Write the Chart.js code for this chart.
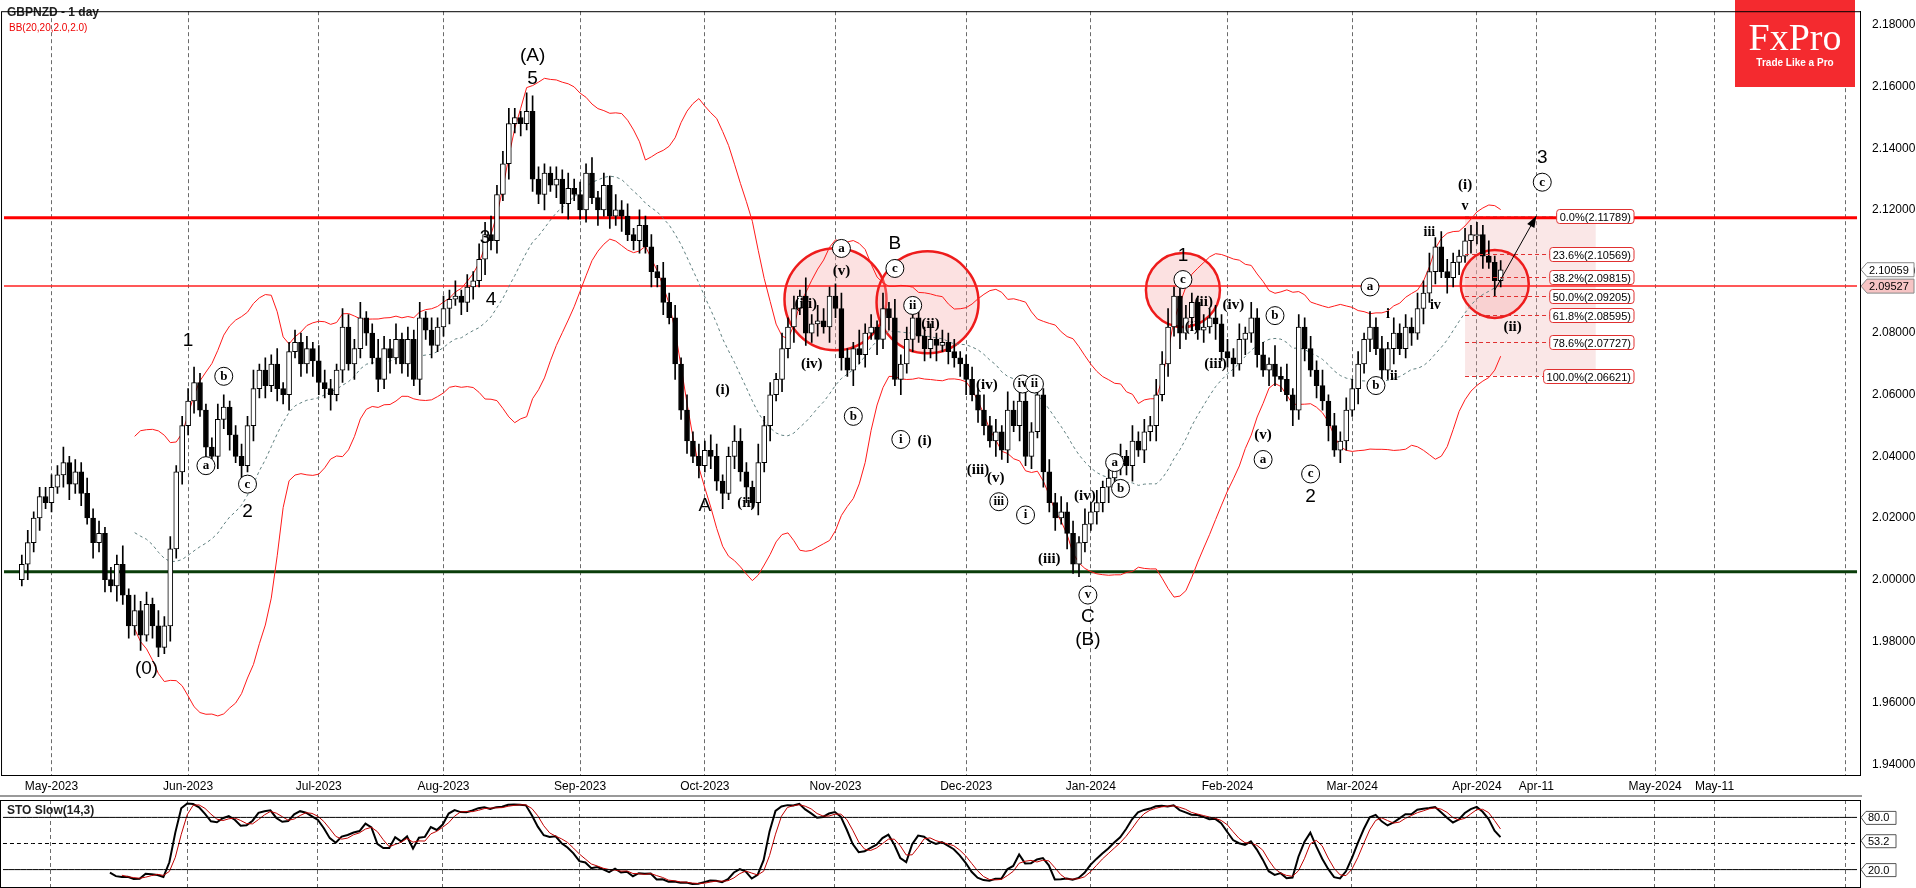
<!DOCTYPE html>
<html><head><meta charset="utf-8">
<script src="https://cdn.jsdelivr.net/npm/chart.js@4.4.1/dist/chart.umd.min.js"></script>
<style>
html,body{margin:0;padding:0;background:#fff;width:1916px;height:888px;overflow:hidden;font-family:"Liberation Sans",Arial,sans-serif}
#w1{position:absolute;left:0;top:0;width:1916px;height:797px}
#w2{position:absolute;left:0;top:797px;width:1916px;height:91px}
#sep{position:absolute;left:0;top:795px;width:1862px;height:2px;background:#999}
</style></head><body>
<div id="w1"><canvas id="c1"></canvas></div>
<div id="sep"></div>
<div id="w2"><canvas id="c2"></canvas></div>
<script>
// ---------- DATA ----------
const closes = [
2.005,2.012,2.020,2.027,2.025,
2.030,2.034,2.038,2.031,2.035,2.028,2.020,2.012,2.015,2.000,1.998,2.005,1.995,1.985,1.990,1.982,1.992,1.985,1.978,1.985,2.010,2.035,2.050,
2.058,2.064,2.055,2.043,2.040,2.052,2.056,2.047,2.040,2.037,2.050,2.062,2.068,2.063,2.070,2.062,2.060,2.074,2.077,2.070,2.075,2.071,
2.064,2.062,2.060,2.068,2.082,2.070,2.075,2.085,2.080,2.072,2.065,2.075,2.072,2.078,2.070,2.078,2.065,2.085,2.081,2.076,2.082,
2.088,2.091,2.092,2.090,2.095,2.097,2.104,2.112,2.110,2.125,2.135,2.148,2.150,2.148,2.152,2.130,2.125,2.132,2.128,2.130,2.122,2.127,2.125,
2.120,2.132,2.124,2.120,2.128,2.118,2.120,2.118,2.112,2.110,2.115,2.108,2.100,2.098,2.090,2.085,2.070,2.055,2.045,2.040,2.037,
2.042,2.040,2.032,2.028,2.040,2.045,2.035,2.030,2.025,2.038,2.050,2.060,2.065,2.075,2.082,2.088,2.092,2.080,2.083,2.084,2.082,2.092,
2.088,2.072,2.068,2.075,2.073,2.080,2.082,2.078,2.088,2.085,2.065,2.070,2.078,2.085,2.079,2.075,2.078,2.076,2.077,2.074,2.072,2.070,
2.065,2.060,2.055,2.050,2.045,2.048,2.042,2.055,2.050,2.058,2.040,2.048,2.060,2.035,2.025,2.020,2.022,2.015,2.005,2.012,2.018,
2.022,2.025,2.030,2.033,2.038,2.040,2.037,2.045,2.042,2.048,2.050,2.060,2.070,2.082,2.092,2.080,2.085,2.090,2.081,2.082,2.085,2.083,2.074,
2.072,2.070,2.078,2.080,2.085,2.073,2.068,2.070,2.066,2.065,2.060,2.055,2.082,2.075,2.068,2.063,2.058,2.050,2.042,2.045,2.055,
2.062,2.070,2.078,2.082,2.075,2.068,2.075,2.080,2.075,2.082,2.080,2.088,2.093,2.100,2.108,2.100,2.098,2.103,2.105,2.110,2.112,
2.112,2.105,2.103,2.097,2.10059];
const firstOpen = 2.000;
// wick lengths in 1/1000 of price
const upperWicks = "34233"+"43524353424362534253423"+"4532354234362435234342"+"543264352364352435243"+"43524354634532654324353"+"435243534253425342534"+"3542354326342534263543"+"4532634252634243524342"+"342534263543524353425"+"34253425343546354324343"+"435253426352434352434"+"342534253435463543243"+"43523";
const lowerWicks = "25342"+"32453425342534352432534"+"3425243524253424352435"+"435242534243523425342"+"35243425342534243524352"+"342524352342534253424"+"2435243524352435243425"+"3425342534253424352434"+"524325342534253425343"+"24352435243524352434253"+"342534253425342435243"+"253424352342534253424"+"34252";
const monthTicks = {8:"May-2023",31:"Jun-2023",53:"Jul-2023",74:"Aug-2023",97:"Sep-2023",118:"Oct-2023",140:"Nov-2023",162:"Dec-2023",183:"Jan-2024",206:"Feb-2024",227:"Mar-2024",248:"Apr-2024",258:"Apr-11",278:"May-2024",288:"May-11"};
const extraGrid = [310];
const yTicks = [1.94,1.96,1.98,2.00,2.02,2.04,2.06,2.08,2.10,2.12,2.14,2.16,2.18];
const level1 = 2.1175, level2 = 2.0953, level3 = 2.0026;
const fibLevels = [["0.0%",2.11789],["23.6%",2.10569],["38.2%",2.09815],["50.0%",2.09205],["61.8%",2.08595],["78.6%",2.07727],["100.0%",2.06621]];
// wave labels: [data index, price, text, style] n=plain big, c=circled, p=paren roman
const waveLabels = [
[21,1.971,"(0)","n"],[28,2.0775,"1","n"],[31,2.037,"a","c"],[34,2.066,"b","c"],[38,2.031,"c","c"],[38,2.022,"2","n"],
[78,2.111,"3","n"],[79,2.091,"4","n"],[86,2.170,"(A)","n"],[86,2.1625,"5","n"],
[115,2.024,"A","n"],[118,2.0615,"(i)","p"],[122,2.025,"(ii)","p"],[132,2.0895,"(iii)","p"],[133,2.070,"(iv)","p"],
[138,2.1075,"a","c"],[138,2.100,"(v)","p"],[147,2.109,"B","n"],[147,2.101,"c","c"],[150,2.089,"ii","c"],[153,2.083,"(ii)","p"],
[140,2.053,"b","c"],[148,2.0455,"i","c"],[152,2.045,"(i)","p"],[162.5,2.063,"(iv)","p"],[168.5,2.0635,"iv","c"],[170.5,2.0635,"ii","c"],
[161,2.0355,"(iii)","p"],[164,2.033,"(v)","p"],[164.5,2.0253,"iii","c"],[169,2.021,"i","c"],[173,2.0066,"(iii)","p"],[179,2.027,"(iv)","p"],
[179.5,1.995,"v","c"],[179.5,1.988,"C","n"],[179.5,1.9805,"(B)","n"],[184,2.038,"a","c"],[185,2.0296,"b","c"],
[195.5,2.105,"1","n"],[195.5,2.0974,"c","c"],[199,2.090,"(ii)","p"],[197,2.082,"(i)","p"],[204,2.089,"(iv)","p"],[201,2.070,"(iii)","p"],
[211,2.0857,"b","c"],[209,2.047,"(v)","p"],[209,2.039,"a","c"],[217,2.0343,"c","c"],[217,2.027,"2","n"],
[227,2.095,"a","c"],[228,2.063,"b","c"],[230,2.086,"i","s"],[231,2.066,"ii","s"],[237,2.1126,"iii","s"],[238,2.089,"iv","s"],
[243,2.121,"v","s"],[243,2.128,"(i)","p"],[251,2.082,"(ii)","p"],[256,2.137,"3","n"],[256,2.129,"c","c"]];
const circles = [[137,2.091,51],[152.5,2.090,51],[195.5,2.094,37],[248,2.096,34]];
const arrowFrom = [248,2.094], arrowTo = [255,2.118];
const fibBox = [243,265];
const lastPrice = 2.10059, markPrice = 2.09527, stoMark = 53.2;

// ---------- BUILD ----------
const LEAD = 3, FUT = 60, N = LEAD + closes.length + FUT;
const labels = Array.from({length:N},(_,k)=>k);
const opens = closes.map((c,i)=> i===0? firstOpen : closes[i-1]);
const uw = i => (+upperWicks[i]||3)/1000, lw = i => (+lowerWicks[i]||3)/1000;
const highs = closes.map((c,i)=> Math.max(c,opens[i]) + uw(i));
const lows = closes.map((c,i)=> Math.min(c,opens[i]) - lw(i));
function pad(arr){ return Array(LEAD).fill(null).concat(arr, Array(FUT).fill(null)); }
const bodies = pad(closes.map((c,i)=>{ let o=opens[i]; if(Math.abs(o-c)<0.0004){o=c-0.0004;} return [o,c]; }));
const wicks = pad(closes.map((c,i)=>[lows[i],highs[i]]));
const bodyColors = pad(closes.map((c,i)=> c>=opens[i] ? '#ffffff' : '#000000'));
// Bollinger 20,2
const mid=[],up=[],dn=[];
closes.forEach((c,i)=>{ if(i<19){mid.push(null);up.push(null);dn.push(null);return;}
  const s=closes.slice(i-19,i+1); const m=s.reduce((a,b)=>a+b,0)/20;
  const sd=Math.sqrt(s.reduce((a,b)=>a+(b-m)*(b-m),0)/20);
  mid.push(m);up.push(m+2*sd);dn.push(m-2*sd);});
// Stochastic slow 14,3 with signal 3
const kRaw=[], K=[], D=[];
closes.forEach((c,i)=>{ if(i<13){kRaw.push(null);return;}
  const hh=Math.max(...highs.slice(i-13,i+1)), ll=Math.min(...lows.slice(i-13,i+1)); kRaw.push([c-ll,hh-ll]);});
kRaw.forEach((v,i)=>{ if(i<15){K.push(null);return;} let a=0,b=0; for(let j=i-2;j<=i;j++){a+=kRaw[j][0];b+=kRaw[j][1];} K.push(b?100*a/b:50);});
K.forEach((v,i)=>{ if(i<17){D.push(null);return;} D.push((K[i]+K[i-1]+K[i-2])/3);});
const flat = v => labels.map(()=>v);
const FONT = '"Liberation Sans", Arial, sans-serif';

const xScaleCommon = {
  type:'category', offset:true,
  grid:{ offset:false, drawTicks:false, lineWidth:1,
    color: c => (monthTicks[c.index]!==undefined || extraGrid.includes(c.index)) ? '#6b6b6b' : 'rgba(0,0,0,0)' },
  border:{ dash:[4,3], display:true, color:'#000' }
};

const annot = {
  id:'annot',
  beforeDatasetsDraw(chart){
    const {ctx, scales:{x,y}} = chart;
    const px = i => x.getPixelForValue(i+LEAD);
    // fib box
    ctx.save();
    ctx.fillStyle='rgba(236,170,170,0.28)';
    const x0=px(fibBox[0]), x1=px(fibBox[1]);
    ctx.fillRect(x0, y.getPixelForValue(fibLevels[0][1]), x1-x0, y.getPixelForValue(fibLevels[6][1])-y.getPixelForValue(fibLevels[0][1]));
    // circles
    circles.forEach(([i,p,r])=>{ ctx.beginPath(); ctx.arc(px(i), y.getPixelForValue(p), r, 0, Math.PI*2);
      ctx.fillStyle='rgba(245,170,170,0.35)'; ctx.fill(); ctx.lineWidth=2.5; ctx.strokeStyle='#ee1c1c'; ctx.stroke();});
    ctx.restore();
  },
  afterDatasetsDraw(chart){
    const {ctx, scales:{x,y}, chartArea:a} = chart;
    const px = i => x.getPixelForValue(i+LEAD);
    ctx.save();
    // fib lines + labels
    fibLevels.forEach(([t,v])=>{
      const yy=Math.round(y.getPixelForValue(v))+0.5;
      const txt=t+"("+v.toFixed(5)+")";
      ctx.font='11px '+FONT; const w=ctx.measureText(txt).width+6;
      const rx = 1634;
      ctx.strokeStyle='#e03030'; ctx.lineWidth=1; ctx.setLineDash([4,3]);
      ctx.beginPath(); ctx.moveTo(px(fibBox[0]),yy); ctx.lineTo(rx-w,yy); ctx.stroke(); ctx.setLineDash([]);
      ctx.fillStyle='#fff'; ctx.beginPath(); ctx.roundRect(rx-w,yy-7,w,14,3); ctx.fill(); ctx.stroke();
      ctx.fillStyle='#000'; ctx.textAlign='left'; ctx.textBaseline='middle'; ctx.fillText(txt,rx-w+3,yy+1);
    });
    // arrow
    const ax=px(arrowFrom[0]), ay=y.getPixelForValue(arrowFrom[1]), bx=px(arrowTo[0]), by=y.getPixelForValue(arrowTo[1]);
    ctx.strokeStyle='#000'; ctx.lineWidth=1; ctx.beginPath(); ctx.moveTo(ax,ay); ctx.lineTo(bx,by); ctx.stroke();
    const ang=Math.atan2(by-ay,bx-ax); ctx.fillStyle='#000'; ctx.beginPath(); ctx.moveTo(bx,by);
    ctx.lineTo(bx-12*Math.cos(ang-0.35),by-12*Math.sin(ang-0.35)); ctx.lineTo(bx-12*Math.cos(ang+0.35),by-12*Math.sin(ang+0.35)); ctx.fill();
    // wave labels
    ctx.textAlign='center'; ctx.textBaseline='middle';
    waveLabels.forEach(([i,p,t,s])=>{
      const xx=px(i), yy=y.getPixelForValue(p);
      if(s==='n'){ ctx.font='19px '+FONT; ctx.fillStyle='#000'; ctx.fillText(t,xx,yy); }
      else if(s==='c'){ ctx.beginPath(); ctx.arc(xx,yy,9,0,Math.PI*2); ctx.fillStyle='#fff'; ctx.fill(); ctx.strokeStyle='#000'; ctx.lineWidth=1; ctx.stroke();
        ctx.font='bold 13px "Liberation Serif", serif'; ctx.fillStyle='#000'; ctx.fillText(t,xx,yy); }
      else if(s==='s'){ ctx.font='bold 14px "Liberation Serif", serif'; ctx.fillStyle='#000'; ctx.fillText(t,xx,yy); }
      else { ctx.font='bold 15px "Liberation Serif", serif'; ctx.fillStyle='#000'; ctx.fillText(t,xx,yy); }
    });
    // title
    ctx.textAlign='left'; ctx.textBaseline='alphabetic';
    ctx.font='bold 12px '+FONT; ctx.fillStyle='#222'; ctx.fillText('GBPNZD - 1 day',7,16);
    ctx.font='10px '+FONT; ctx.fillStyle='#e00'; ctx.fillText('BB(20,20,2.0,2.0)',9,31);
    // logo
    ctx.fillStyle='#f42a2f'; ctx.fillRect(1735,0,120,87);
    ctx.fillStyle='#fff'; ctx.textAlign='center'; ctx.font='38px "Liberation Serif", serif'; ctx.fillText('FxPro',1795,50);
    ctx.font='bold 10px '+FONT; ctx.fillText('Trade Like a Pro',1795,66);
    // price boxes
    const box=(v,fill,txt)=>{ const yy=y.getPixelForValue(v); ctx.fillStyle=fill; ctx.strokeStyle='#888'; ctx.lineWidth=1;
      ctx.beginPath(); ctx.moveTo(a.right+1,yy); ctx.lineTo(a.right+7,yy-7); ctx.lineTo(1914,yy-7); ctx.lineTo(1914,yy+7); ctx.lineTo(a.right+7,yy+7); ctx.closePath(); ctx.fill(); ctx.stroke();
      ctx.fillStyle='#000'; ctx.font='11px '+FONT; ctx.textAlign='left'; ctx.textBaseline='middle'; ctx.fillText(txt,a.right+9,yy+1);};
    box(lastPrice,'#fff',lastPrice.toFixed(5)); box(markPrice,'#f6c4c4',markPrice.toFixed(5));
    // frame
    ctx.strokeStyle='#000'; ctx.lineWidth=1; ctx.strokeRect(a.left+0.5,a.top+0.5,a.right-a.left,a.bottom-a.top);
    ctx.restore();
  }
};

new Chart(document.getElementById('c1'),{
  type:'bar',
  data:{ labels, datasets:[
    {type:'line',data:flat(level1),borderColor:'#ff0000',borderWidth:3,pointRadius:0,order:5},
    {type:'line',data:flat(level2),borderColor:'#ff2020',borderWidth:1.5,pointRadius:0,order:5},
    {type:'line',data:flat(level3),borderColor:'#0a3d0a',borderWidth:3,pointRadius:0,order:5},
    {type:'line',data:pad(up),borderColor:'#ff1a1a',borderWidth:1,pointRadius:0,tension:0,order:4},
    {type:'line',data:pad(dn),borderColor:'#ff1a1a',borderWidth:1,pointRadius:0,tension:0,order:4},
    {type:'line',data:pad(mid),borderColor:'#5f7f7f',borderWidth:1,borderDash:[3,3],pointRadius:0,order:4},
    {data:wicks,backgroundColor:'#000',borderWidth:0,barThickness:1,grouped:false,order:3},
    {data:bodies,backgroundColor:bodyColors,borderColor:'#000',borderWidth:1,borderSkipped:false,barThickness:5,grouped:false,order:2}
  ]},
  options:{ animation:false, responsive:true, maintainAspectRatio:false,
    layout:{padding:{left:0,right:0,top:0,bottom:0}},
    plugins:{legend:{display:false},tooltip:{enabled:false}},
    scales:{
      x:{...xScaleCommon, ticks:{autoSkip:false,maxRotation:0,padding:4,color:'#000',font:{family:FONT,size:12},
          callback:(v,i)=>monthTicks[i]||''},
        afterFit:s=>{s.height=22;}},
      y:{position:'right',min:1.9366,max:2.1845,
        afterBuildTicks:s=>{s.ticks=yTicks.map(v=>({value:v}));},
        grid:{display:false},border:{display:true,color:'#000'},
        ticks:{color:'#000',font:{family:FONT,size:12},padding:4,callback:v=>v.toFixed(5)},
        afterFit:s=>{s.width=56;}}
    }},
  plugins:[annot]
});

const stoPlug = {
  id:'sto',
  afterDatasetsDraw(chart){
    const {ctx, scales:{y}, chartArea:a} = chart;
    ctx.save();
    ctx.font='bold 12px '+FONT; ctx.fillStyle='#222'; ctx.textAlign='left'; ctx.fillText('STO Slow(14,3)',7,a.top+14);
    const box=(v,txt)=>{ const yy=y.getPixelForValue(v); ctx.fillStyle='#fff'; ctx.strokeStyle='#555';
      ctx.beginPath(); ctx.moveTo(a.right+1,yy); ctx.lineTo(a.right+6,yy-6); ctx.lineTo(a.right+36,yy-6); ctx.lineTo(a.right+36,yy+7); ctx.lineTo(a.right+6,yy+7); ctx.closePath(); ctx.fill(); ctx.stroke();
      ctx.fillStyle='#000'; ctx.font='11px '+FONT; ctx.textBaseline='middle'; ctx.fillText(txt,a.right+8,yy+1);};
    box(80,'80.0'); box(stoMark,'53.2'); box(20,'20.0');
    ctx.strokeStyle='#000'; ctx.strokeRect(a.left+0.5,a.top+0.5,a.right-a.left,a.bottom-a.top);
    ctx.restore();
  }
};
new Chart(document.getElementById('c2'),{
  type:'line',
  data:{labels,datasets:[
    {data:flat(80),borderColor:'#000',borderWidth:1,pointRadius:0},
    {data:flat(20),borderColor:'#000',borderWidth:1,pointRadius:0},
    {data:flat(50),borderColor:'#000',borderWidth:1,borderDash:[4,3],pointRadius:0},
    {data:pad(D),borderColor:'#c00000',borderWidth:1,pointRadius:0},
    {data:pad(K),borderColor:'#000',borderWidth:2,pointRadius:0}
  ]},
  options:{animation:false,responsive:true,maintainAspectRatio:false,
    layout:{padding:{top:3,bottom:1}},
    plugins:{legend:{display:false},tooltip:{enabled:false}},
    scales:{
      x:{...xScaleCommon, ticks:{display:false}, afterFit:s=>{s.height=0;}},
      y:{position:'right',min:0,max:100,grid:{display:false},border:{color:'#000'},
        ticks:{display:false},afterFit:s=>{s.width=56;}}
    }},
  plugins:[stoPlug]
});
</script></body></html>
